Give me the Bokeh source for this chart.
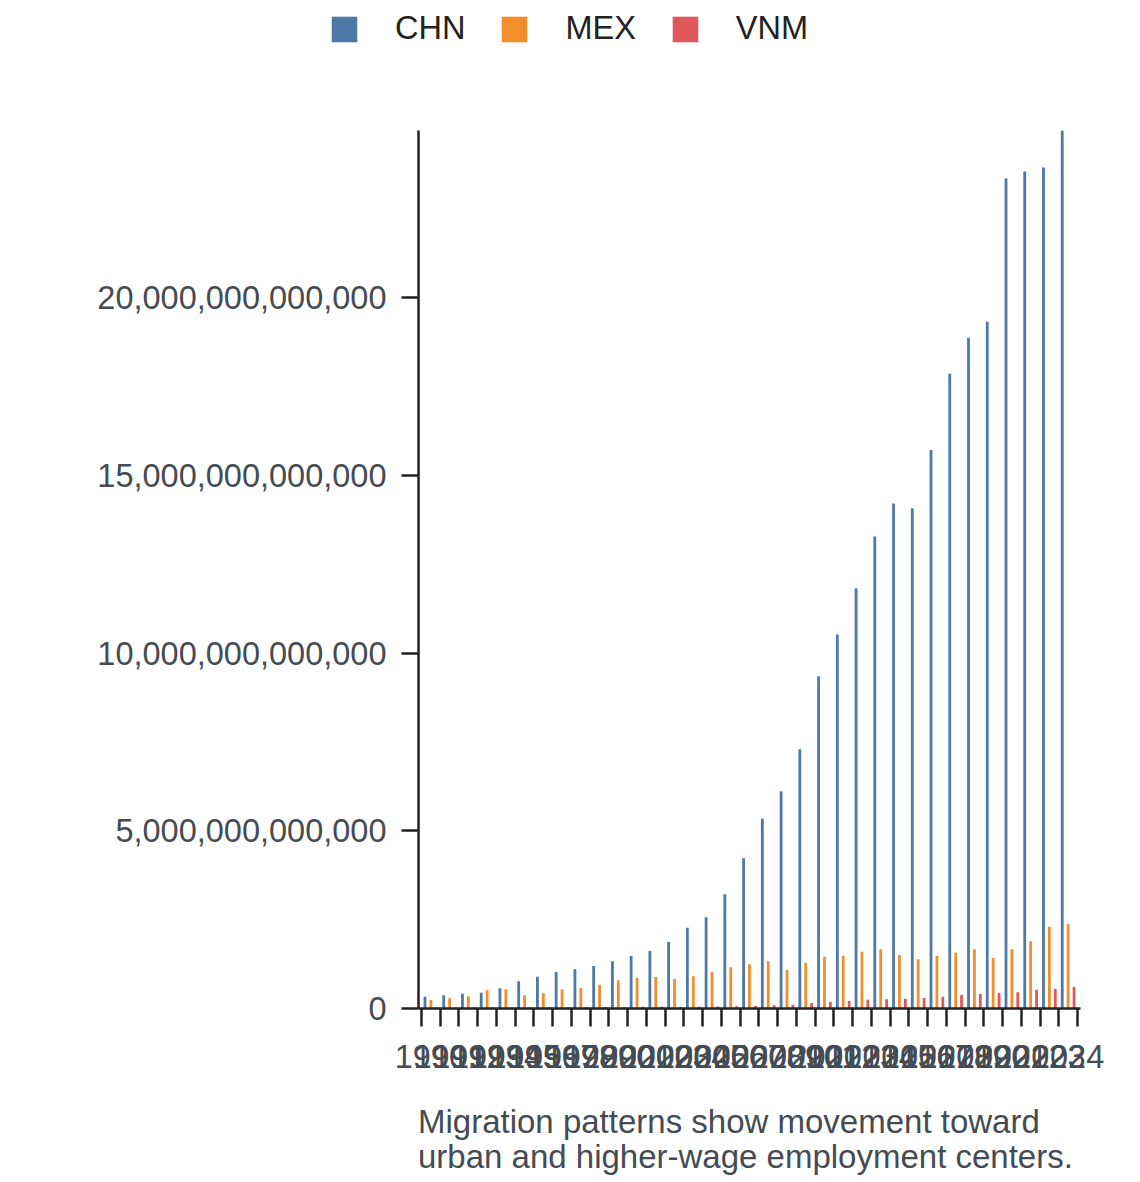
from bokeh.plotting import figure
from bokeh.layouts import column
from bokeh.models import (ColumnDataSource, Range1d, LinearAxis, FixedTicker,
                          NumeralTickFormatter, Legend, LegendItem, Label)
from bokeh.transform import dodge
from bokeh.embed import file_html
from bokeh.resources import INLINE

years = [1990, 1991, 1992, 1993, 1994, 1995, 1996, 1997, 1998, 1999,
         2000, 2001, 2002, 2003, 2004, 2005, 2006, 2007, 2008, 2009,
         2010, 2011, 2012, 2013, 2014, 2015, 2016, 2017, 2018, 2019,
         2020, 2021, 2022, 2023, 2024]

# values in trillions
chn = [0.332, 0.372, 0.417, 0.445, 0.569, 0.766, 0.895, 1.028, 1.104, 1.197,
       1.329, 1.478, 1.619, 1.872, 2.275, 2.568, 3.215, 4.229, 5.343, 6.115,
       7.297, 9.353, 10.524, 11.830, 13.288, 14.212, 14.082, 15.723, 17.863, 18.877,
       19.327, 23.361, 23.558, 23.671, 24.713]
mex = [0.239, 0.287, 0.343, 0.512, 0.541, 0.372, 0.428, 0.541, 0.577, 0.670,
       0.794, 0.859, 0.887, 0.831, 0.907, 1.036, 1.160, 1.244, 1.329, 1.084,
       1.289, 1.458, 1.486, 1.599, 1.667, 1.506, 1.385, 1.478, 1.571, 1.667,
       1.422, 1.667, 1.892, 2.303, 2.379]
vnm = [0.030, 0.031, 0.032, 0.033, 0.034, 0.036, 0.038, 0.040, 0.041, 0.042,
       0.044, 0.046, 0.048, 0.050, 0.053, 0.057, 0.062, 0.070, 0.090, 0.107,
       0.155, 0.183, 0.211, 0.248, 0.259, 0.276, 0.296, 0.332, 0.380, 0.408,
       0.436, 0.456, 0.529, 0.549, 0.605]

series = ["CHN", "MEX", "VNM"]
colors = ["#4e79a7", "#f28e2b", "#e15759"]
y_ticks = [0, 5e12, 10e12, 15e12, 20e12]
caption = ["Migration patterns show movement toward",
           "urban and higher-wage employment centers."]

FONT = "Liberation Sans"
FS = "32.5px"
CAP_FS = "33px"
LABEL_COLOR = "#454b52"
AXIS_COLOR = "#222222"
W = 1136

n = len(years)
idx = list(range(n))
src = ColumnDataSource(dict(
    idx=idx,
    CHN=[v * 1e12 for v in chn],
    MEX=[v * 1e12 for v in mex],
    VNM=[v * 1e12 for v in vnm],
))

ymax = max(max(chn), max(mex), max(vnm)) * 1e12


def blank_fig(h):
    f = figure(width=W, height=h, output_backend="svg", toolbar_location=None,
               x_range=Range1d(0, 1), y_range=Range1d(0, 1),
               x_axis_type=None, y_axis_type=None,
               min_border_left=0, min_border_right=0,
               min_border_top=0, min_border_bottom=0,
               frame_align=False)
    f.outline_line_color = None
    f.background_fill_color = "white"
    f.border_fill_color = "white"
    return f


# ---- legend strip (legend swatches only; the swatch bars sit outside the visible range) ----
leg_fig = blank_fig(60)
leg_src = ColumnDataSource(dict(x=[-5.0], top=[0.0]))
leg_items = []
for name, col in zip(series, colors):
    r = leg_fig.vbar(x="x", top="top", width=0.1, source=leg_src,
                     fill_color=col, line_color=None)
    leg_items.append(LegendItem(label=name, renderers=[r]))
legend = Legend(items=leg_items, orientation="horizontal", location=(328, 13),
                glyph_width=32, glyph_height=32, label_standoff=35, spacing=33,
                padding=0, margin=0, border_line_color=None, background_fill_alpha=0,
                label_text_font=FONT, label_text_font_size=FS,
                label_text_color=AXIS_COLOR)
leg_fig.add_layout(legend)

# ---- main chart ----
p = figure(width=W, height=1035, output_backend="svg", toolbar_location=None,
           x_range=Range1d(-0.66, n - 1 + 0.66), y_range=Range1d(0, ymax),
           x_axis_type=None, y_axis_type=None,
           min_border_left=418, min_border_right=56,
           min_border_top=70, min_border_bottom=87,
           frame_align=False)
p.outline_line_color = None
p.background_fill_color = "white"
p.border_fill_color = "white"

offsets = [-0.315, 0.0, 0.315]
for name, col, off in zip(series, colors, offsets):
    p.vbar(x=dodge("idx", off, range=p.x_range), top=name, width=0.15,
           source=src, fill_color=col, line_color=None)

# x axis: labels at group centres, ticks at group boundaries
xticker = FixedTicker(ticks=idx, minor_ticks=[i - 0.5 for i in range(n + 1)])
xaxis = LinearAxis(ticker=xticker)
xaxis.major_label_overrides = {i: str(y) for i, y in zip(idx, years)}
xaxis.axis_line_color = AXIS_COLOR
xaxis.axis_line_width = 2.5
xaxis.major_tick_line_color = None
xaxis.major_tick_out = 18
xaxis.major_tick_in = 0
xaxis.minor_tick_line_color = AXIS_COLOR
xaxis.minor_tick_line_width = 2.5
xaxis.minor_tick_out = 18
xaxis.minor_tick_in = 0
xaxis.major_label_standoff = 18
xaxis.major_label_text_font = FONT
xaxis.major_label_text_font_size = FS
xaxis.major_label_text_color = LABEL_COLOR
p.add_layout(xaxis, "below")

yaxis = LinearAxis(ticker=FixedTicker(ticks=y_ticks, minor_ticks=[]),
                   formatter=NumeralTickFormatter(format="0,0"))
yaxis.axis_line_color = AXIS_COLOR
yaxis.axis_line_width = 2.5
yaxis.major_tick_line_color = AXIS_COLOR
yaxis.major_tick_line_width = 2.5
yaxis.major_tick_out = 17
yaxis.major_tick_in = 0
yaxis.minor_tick_line_color = None
yaxis.major_label_standoff = 15
yaxis.major_label_text_font = FONT
yaxis.major_label_text_font_size = FS
yaxis.major_label_text_color = LABEL_COLOR
p.add_layout(yaxis, "left")

# ---- caption strip ----
cap_fig = blank_fig(83)
for k, line in enumerate(caption):
    cap_fig.add_layout(Label(x=417.5, y=57.5 - 35 * k, x_units="screen", y_units="screen",
                             text=line, text_font=FONT, text_font_size=CAP_FS,
                             text_color=LABEL_COLOR, text_baseline="alphabetic",
                             text_align="left"))

layout = column(leg_fig, p, cap_fig, spacing=0)
open("out.html", "w").write(file_html(layout, INLINE))
